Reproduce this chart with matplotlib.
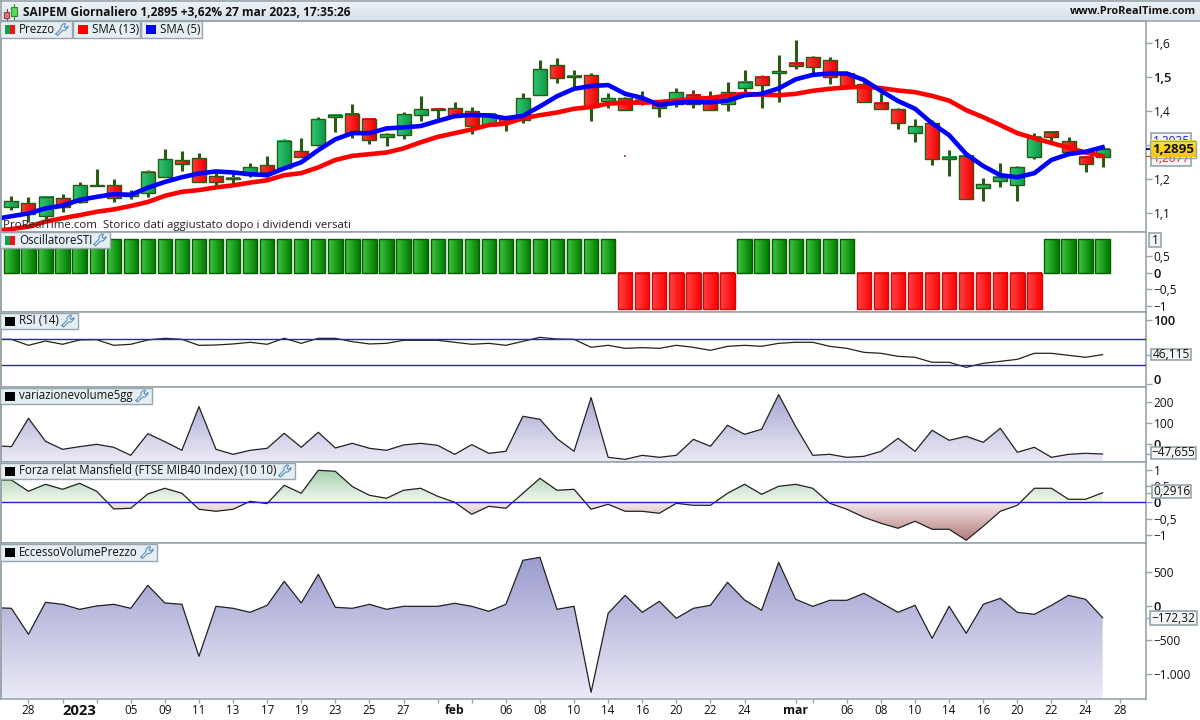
import numpy as np
import matplotlib
matplotlib.use("Agg")
import matplotlib.pyplot as plt
from matplotlib.colors import LinearSegmentedColormap as LSC
from matplotlib.patches import Rectangle, Polygon
from matplotlib.transforms import ScaledTranslation

highs = [1.150,1.147,1.148,1.155,1.190,1.229,1.199,1.166,1.226,1.288,1.282,1.275,1.216,1.216,1.246,1.267,1.317,1.321,1.383,1.393,1.421,1.380,1.336,1.396,1.445,1.409,1.427,1.412,1.393,1.385,1.453,1.551,1.557,1.521,1.512,1.453,1.442,1.459,1.433,1.468,1.461,1.459,1.486,1.521,1.506,1.565,1.610,1.562,1.559,1.516,1.492,1.453,1.408,1.377,1.374,1.285,1.268,1.202,1.247,1.238,1.335,1.341,1.323,1.268,1.2895]
lows = [1.108,1.073,1.079,1.102,1.128,1.178,1.133,1.142,1.147,1.206,1.223,1.191,1.180,1.186,1.206,1.206,1.231,1.265,1.298,1.339,1.321,1.303,1.298,1.318,1.371,1.374,1.383,1.333,1.359,1.342,1.366,1.449,1.484,1.467,1.371,1.410,1.404,1.418,1.383,1.413,1.410,1.402,1.401,1.456,1.410,1.428,1.525,1.511,1.481,1.464,1.426,1.405,1.348,1.310,1.242,1.210,1.140,1.136,1.177,1.136,1.260,1.310,1.277,1.219,1.236]
opens = [1.118,1.128,1.091,1.143,1.133,1.181,1.181,1.150,1.157,1.206,1.255,1.261,1.208,1.199,1.211,1.240,1.231,1.281,1.300,1.383,1.393,1.376,1.325,1.330,1.390,1.406,1.408,1.399,1.359,1.380,1.374,1.449,1.535,1.500,1.506,1.431,1.438,1.424,1.418,1.421,1.449,1.438,1.420,1.467,1.500,1.513,1.541,1.559,1.550,1.511,1.479,1.423,1.405,1.335,1.364,1.258,1.267,1.173,1.193,1.181,1.264,1.338,1.311,1.266,1.264]
closes = [1.134,1.097,1.148,1.117,1.181,1.179,1.143,1.158,1.219,1.258,1.245,1.191,1.191,1.203,1.234,1.221,1.311,1.265,1.376,1.390,1.336,1.314,1.332,1.391,1.405,1.402,1.385,1.357,1.393,1.367,1.438,1.523,1.497,1.504,1.413,1.438,1.404,1.433,1.408,1.455,1.420,1.402,1.455,1.485,1.476,1.518,1.532,1.531,1.500,1.475,1.426,1.405,1.364,1.355,1.258,1.264,1.140,1.184,1.205,1.234,1.325,1.323,1.279,1.243,1.2895]
# indicators start one session before the first visible candle
sma13 = [1.046,1.052,1.059,1.074,1.084,1.093,1.103,1.110,1.120,1.132,1.150,1.162,1.167,1.175,1.181,1.189,1.196,1.211,1.217,1.234,1.256,1.268,1.273,1.278,1.290,1.308,1.324,1.335,1.346,1.359,1.363,1.379,1.388,1.396,1.407,1.412,1.422,1.425,1.425,1.427,1.431,1.436,1.439,1.446,1.451,1.449,1.447,1.451,1.460,1.466,1.470,1.472,1.468,1.461,1.456,1.445,1.431,1.403,1.382,1.359,1.335,1.320,1.306,1.292,1.278,1.2677]
sma5 = [1.081,1.090,1.098,1.113,1.121,1.138,1.147,1.155,1.153,1.174,1.191,1.205,1.216,1.222,1.219,1.214,1.211,1.231,1.249,1.285,1.317,1.335,1.335,1.349,1.352,1.356,1.371,1.385,1.389,1.387,1.379,1.386,1.414,1.444,1.466,1.474,1.477,1.451,1.439,1.418,1.425,1.427,1.426,1.431,1.447,1.451,1.467,1.494,1.507,1.511,1.511,1.492,1.460,1.430,1.407,1.364,1.329,1.273,1.238,1.211,1.205,1.217,1.256,1.273,1.280,1.2935]
osc = [1.03]*36 + [-1.1]*7 + [1.03]*7 + [-1.1]*11 + [1.03]*4
rsi = [69.9,69.9,60.6,67.3,62.2,68.9,69.4,60.6,62.2,68.9,71.5,69.9,60.6,61.1,62.7,65.3,62.2,71.5,63.7,71.5,71.5,66.3,62.7,63.7,68.4,68.4,68.4,65.3,62.2,63.7,60.6,66.8,73.0,70.4,69.9,57.5,60.6,55.9,57.0,55.9,60.6,57.5,52.8,59.0,60.6,59.0,63.7,65.3,65.3,59.0,55.9,49.7,48.2,43.5,42.0,34.2,34.2,26.4,32.6,35.7,38.8,48.2,48.2,45.0,42.0,46.115]
varvol = [-7.9,-12.7,122.2,12.7,-25.4,-12.7,-1.6,-15.8,-53.9,49.2,11.1,-30.1,177.8,-25.4,-49.2,-30.1,-20.6,50.8,-15.8,55.6,-19.0,3.2,-20.6,-30.1,-4.7,3.2,-6.3,-49.2,-3.1,-44.4,-34.9,131.7,117.5,25.4,-34.9,220.6,-63.5,-73.0,-53.9,-63.5,-53.9,22.2,-11.1,88.9,46.0,69.9,234.9,82.6,-53.9,-49.2,-63.5,-58.7,-34.9,27.0,-34.9,65.1,17.5,36.5,8.0,74.6,-39.6,-15.8,-63.5,-49.2,-44.4,-47.655]
mansfield = [.684,.684,.337,.551,.398,.582,.337,-.204,-.184,.255,.429,.276,-.214,-.276,-.214,.031,-.041,.521,.276,.980,.949,.480,.214,.123,.368,.429,.184,0,-.368,-.123,-.184,.276,.735,.368,.398,-.214,-.061,-.276,-.276,-.337,-.031,-.092,-.092,.276,.551,.245,.490,.551,.429,-.031,-.214,-.459,-.643,-.796,-.582,-.827,-.827,-1.164,-.735,-.276,-.092,.429,.429,.092,.092,.2916]
eccesso = [-24.5,-34.3,-417.7,54.2,24.7,-49,-.1,24.7,-34.3,304.9,44.4,24.7,-742.2,-4.8,-34.3,-93.3,10,363.9,44.4,467.2,-19.5,-34.3,24.7,-49,-4.8,-4.8,-4.8,39.5,-4.8,-78.5,24.7,673.6,717.9,-49,-4.8,-1273.1,-108,157.4,-93.3,68.9,-181.8,-34.3,10,349.2,88.6,-63.8,644.1,98.4,-4.8,83.7,83.7,186.9,49.3,-93.3,10,-476.7,-4.8,-403,24.7,113.2,-93.3,-122.8,10,157.4,98.4,-172.32]
date_pos = [1,4,7,9,11,13,15,17,19,21,23,26,29,31,33,35,37,39,41,43,46,49,51,53,55,57,59,61,63,65]
date_lab = ["28","2023","05","09","11","13","17","19","23","25","27","feb","06","08","10","14","16","20","22","24","mar","06","08","10","14","16","20","22","24","28"]
blank_ticks = [3,5,25,27,47]
bold_dates = {"2023","feb","mar"}

FONT = "Open Sans"
plt.rcParams["font.family"] = [FONT, "DejaVu Sans"]
GRID = "#98a5ab"
W, H = 1200, 720
fig = plt.figure(figsize=(12, 7.2), dpi=100, facecolor="white")
X0, X1 = 1, 1146
xlim = ((X0 - 11.4) / 17.05, (X1 - 11.4) / 17.05)
xb = np.arange(len(highs))
xi = np.arange(-1, len(highs))
px = 1 / 17.05


def panel(top, bottom, ylim, ticks, labels, bold=()):
    ax = fig.add_axes([X0 / W, 1 - bottom / H, (X1 - X0) / W, (bottom - top) / H])
    ax.set_xlim(*xlim)
    ax.set_ylim(*ylim)
    ax.autoscale(False)
    for s in ax.spines.values():
        s.set_color(GRID)
        s.set_linewidth(1.2)
    ax.set_xticks([])
    ax.yaxis.tick_right()
    ax.set_yticks(ticks)
    ax.set_yticklabels(labels)
    ax.tick_params(axis="y", length=4, width=1, color=GRID, pad=1.5, labelsize=8.6, labelcolor="#111111")
    for t in ax.get_yticklabels():
        if t.get_text() in bold:
            t.set_fontweight("semibold")
            t.set_fontsize(9.4)
    return ax


def gradfill(ax, xs, ys, base, c_top, c_bot, ext_top=None, ext_bot=None):
    poly = np.column_stack([np.r_[xs[0], xs, xs[-1]], np.r_[base, ys, base]])
    clip = Polygon(poly, closed=True, fc="none", ec="none", transform=ax.transData)
    ax.add_patch(clip)
    cm = LSC.from_list("g", [c_top, c_bot])
    top = max(ys) if ext_top is None else ext_top
    bot = base if ext_bot is None else ext_bot
    im = ax.imshow(np.linspace(0, 1, 128)[:, None], cmap=cm, aspect="auto", origin="upper",
                   extent=[xs[0], xs[-1], bot, top], zorder=1, interpolation="bilinear")
    im.set_clip_path(clip)


def hgrad(ax, x, w, y0, y1, cl, cr, edge, lw=1.0, z=3):
    cm = LSC.from_list("h", [cl, cr])
    ax.imshow(np.linspace(0, 1, 32)[None, :], cmap=cm, aspect="auto",
              extent=[x - w / 2, x + w / 2, min(y0, y1), max(y0, y1)], zorder=z, interpolation="bilinear")
    ax.add_patch(Rectangle((x - w / 2, min(y0, y1)), w, abs(y1 - y0), fc="none", ec=edge, lw=lw, zorder=z + .1))


# Price panel
a1 = panel(21, 232, (1.0433, 1.666), [1.1, 1.2, 1.3, 1.4, 1.5, 1.6], ["1,1", "1,2", "1,3", "1,4", "1,5", "1,6"], {"1,5"})
WICK = "#2a5a14"
a1.vlines(xb, lows, highs, color=WICK, lw=2.2, zorder=2)
for i, (o, c) in enumerate(zip(opens, closes)):
    if c >= o:
        hgrad(a1, i, 14 * px, o, c, "#2fc873", "#0e9a48", WICK, 1.0)
    else:
        hgrad(a1, i, 14 * px, o, c, "#ff3a3a", "#f20000", WICK, 1.0)
a1.plot(xi, sma13, color="#ff0000", lw=3.3, zorder=5, solid_joinstyle="round")
a1.plot(xi, sma5, color="#0000ff", lw=3.3, zorder=6, solid_joinstyle="round")
a1.scatter([36], [1.269], s=1.5, color="#a06090", marker="s", lw=0, zorder=4)

# Oscillator
a2 = panel(232, 312, (-1.182, 1.242), [-1, -.5, 0, .5], ["\u22121", "\u22120,5", "0", "0,5"], {"0"})
for i, v in enumerate(osc):
    if v > 0:
        hgrad(a2, i, 14.3 * px, 0, v, "#3fc83f", "#007a00", "#0a5a0a", 1.0)
    else:
        hgrad(a2, i, 14.3 * px, 0, v, "#ff4545", "#ff0000", "#c01010", 1.0)

# RSI
a3 = panel(312, 387, (-4.2, 112.4), [0, 46.115, 100], ["0", "", "100"], {"0", "100"})
for lvl in (70, 30):
    a3.axhline(lvl, color="#2222dd", lw=1.0, zorder=3)
a3.plot(xi, rsi, color="#222222", lw=.9, zorder=2)
for t in a3.get_yticklabels():
    if t.get_text() == "0":
        t.set_transform(t.get_transform() + ScaledTranslation(0, 4 / 72, fig.dpi_scale_trans))

# Volume variation
a4 = panel(387, 462, (-85.7, 271), [-47.655, 0, 100, 200], ["", "0", "100", "200"], {"0"})
gradfill(a4, xi, varvol, -85.7, "#a6a6d3", "#ecebf6")
a4.plot(xi, varvol, color="#222222", lw=.9, zorder=2)

# Mansfield
a5 = panel(462, 543, (-1.247, 1.234), [-1, -.5, 0, .2916, .5, 1], ["\u22121", "\u22120,5", "0", "", "0,5", "1"], {"0"})
m = np.array(mansfield)
poly = np.column_stack([np.r_[xi[0], xi, xi[-1]], np.r_[0, m, 0]])
clip = Polygon(poly, closed=True, fc="none", ec="none", transform=a5.transData)
a5.add_patch(clip)
for cols, ext in ((("#a4cfa8", "#f1f7f1"), [xi[0], xi[-1], 0, 1.0]), (("#f6eeee", "#b27c7a"), [xi[0], xi[-1], -1.17, 0])):
    im = a5.imshow(np.linspace(0, 1, 128)[:, None], cmap=LSC.from_list("m", cols), aspect="auto", origin="upper",
                   extent=ext, zorder=1, interpolation="bilinear")
    im.set_clip_path(clip)
a5.axhline(0, color="#2222dd", lw=1.0, zorder=3)
a5.plot(xi, m, color="#222222", lw=.9, zorder=2)

# Excess volume/price
a6 = panel(543, 699, (-1372, 929), [-1000, -500, -172.32, 0, 500], ["\u22121.000", "\u2212500", "", "0", "500"], {"0"})
gradfill(a6, xi, eccesso, -1372, "#9c9ccf", "#ecebf7")
a6.plot(xi, eccesso, color="#222222", lw=.9, zorder=2)
a6.set_xticks(date_pos + blank_ticks)
a6.set_xticklabels(date_lab + [""] * len(blank_ticks))
a6.tick_params(axis="x", length=3, width=1, color=GRID, pad=0.5, labelsize=8.4, labelcolor="#111111")
for tick in a6.xaxis.get_major_ticks():
    if tick.label1.get_text() in bold_dates:
        tick.label1.set_fontweight("bold")
        tick.label1.set_fontsize(8.8 if tick.label1.get_text() != "2023" else 10.6)
    if tick.label1.get_text() in ("2023", "feb"):
        tick.tick1line.set_visible(False)

# Overlay in pixel coordinates: title bar, legends and value boxes
ui = fig.add_axes([0, 0, 1, 1], zorder=20)
ui.set_xlim(0, W)
ui.set_ylim(H, 0)
ui.axis("off")
ui.patch.set_alpha(0)
ui.imshow(np.linspace(0, 1, 32)[:, None], cmap=LSC.from_list("t", ["#eef3f6", "#d9e3ea"]), aspect="auto",
          extent=[0, W, 20, 0], zorder=1)
ui.set_xlim(0, W)
ui.set_ylim(H, 0)
ui.plot([0, W], [20.5, 20.5], color=GRID, lw=1.2, zorder=2)
ui.plot([0, W], [.5, .5], color=GRID, lw=1.2, zorder=2)
ui.plot([.5, .5], [0, 699], color=GRID, lw=1.2, zorder=2)
ui.add_patch(Rectangle((4, 12), 5, 6, fc="#f07070", ec="#884444", lw=.8, zorder=3))
ui.plot([6.5, 6.5], [9, 20], color="#884444", lw=.8, zorder=2.5)
ui.add_patch(Rectangle((11, 7), 6, 9, fc="#55dd55", ec="#338833", lw=.8, zorder=3))
ui.plot([14, 14], [4, 19], color="#338833", lw=.8, zorder=2.5)
ui.text(23, 12, "SAIPEM Giornaliero 1,2895 +3,62% 27 mar 2023, 17:35:26", fontsize=8.6, fontweight="bold",
        va="center", color="#111111", zorder=4)
ui.text(1196, 12, "www.ProRealTime.com", fontsize=7.9, fontweight="bold", va="center", ha="right", color="#111111", zorder=4)
ui.text(3, 225.5, "ProRealTime.com  Storico dati aggiustato dopo i dividendi versati", fontsize=8.25, va="center",
        color="#222222", zorder=4)


def wrench(x, y, s=1.0):
    p = np.array([(0, 10.5), (1.5, 12), (6.5, 7), (9, 7), (12, 4), (12, 2.5), (9.5, 4.5), (8, 3.5), (9.5, .5),
                  (8, 0), (5, 2.5), (5, 5), (0, 10.5)]) * s
    ui.plot(x + p[:, 0], y + p[:, 1], color="#5f90ba", lw=.8, zorder=6)


def legend(x0, x1, top, bot, label, swatch, tool=True, textx=None):
    ui.add_patch(Rectangle((x0, top), x1 - x0, bot - top, fc="#e5eef3", ec=GRID, lw=1, zorder=4))
    yc = (top + bot) / 2
    sx = x0 + 5
    if swatch == "pr":
        ui.add_patch(Rectangle((sx, yc - 4.5), 5, 9, fc="#169a4b", ec="none", zorder=5))
        ui.add_patch(Rectangle((sx + 5, yc - 4.5), 5, 9, fc="#f01414", ec="none", zorder=5))
    else:
        ui.add_patch(Rectangle((sx, yc - 4.5), 10, 9, fc=swatch, ec="none", zorder=5))
    t = ui.text(sx + 14, yc, label, fontsize=8.3, va="center", color="#111111", zorder=6)
    if tool:
        wrench(x1 - 16, yc - 6)


legend(0, 72, 21, 38, "Prezzo", "pr")
legend(73, 140, 21, 38, "SMA (13)", "#ff0000", tool=False)
legend(141, 202, 21, 38, "SMA (5)", "#0000ff", tool=False)
legend(0, 110, 232, 248, "OscillatoreSTI", "pr")
legend(0, 78, 313, 329, "RSI (14)", "#000000")
legend(0, 152, 388, 404, "variazionevolume5gg", "#000000")
legend(0, 295, 463, 479, "Forza relat Mansfield (FTSE MIB40 Index) (10 10)", "#000000")
legend(0, 157, 544, 561, "EccessoVolumePrezzo", "#000000")


def vbox(x0, x1, y0, y1, label, color="#111111", fc="#f2f4f5", weight="normal", size=8.6):
    ui.add_patch(Rectangle((x0, y0), x1 - x0, y1 - y0, fc=fc, ec=GRID, lw=1.2, zorder=7))
    ui.text((x0 + x1) / 2, (y0 + y1) / 2, label, fontsize=size, color=color, fontweight=weight,
            ha="center", va="center", zorder=8)


vbox(1149, 1161, 233, 247, "1")
vbox(1151, 1191, 349, 360, "46,115")
vbox(1151, 1196, 447, 459, "\u221247,655")
vbox(1152, 1191, 485, 498, "0,2916")
vbox(1150, 1197, 611, 625, "\u2212172,32")
vbox(1151, 1191, 133, 150, "1,2935", color="#2222dd")
vbox(1151, 1191, 150, 166, "1,2677", color="#ee2222")
ui.plot([1146, 1151], [147.5, 147.5], color="#2222dd", lw=.8, zorder=7)
ui.plot([1146, 1151], [149, 149], color="#111111", lw=.8, zorder=7)
ui.plot([1146, 1151], [156, 156], color="#ee2222", lw=.8, zorder=7)
ui.imshow(np.linspace(0, 1, 32)[:, None], cmap=LSC.from_list("y", ["#ffe640", "#f5c400"]), aspect="auto",
          extent=[1150, 1196, 157.5, 141], zorder=8)
ui.set_xlim(0, W)
ui.set_ylim(H, 0)
ui.add_patch(Rectangle((1150, 141), 46, 16.5, fc="none", ec=GRID, lw=1, zorder=8.5))
ui.text(1173, 149.3, "1,2895", fontsize=9.6, fontweight="bold", ha="center", va="center", color="#111111", zorder=9)

fig.savefig("out.png", dpi=100, facecolor="white")
